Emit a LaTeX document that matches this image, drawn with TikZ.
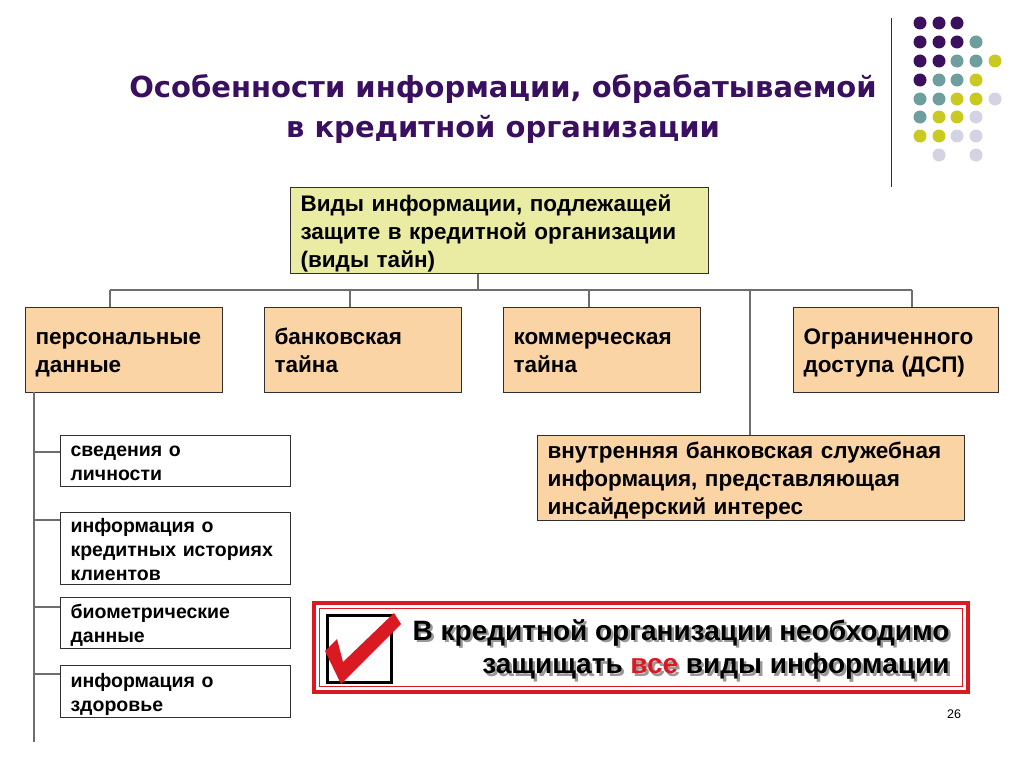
\documentclass[tikz,border=0pt]{standalone}
\usepackage{fontspec}
\setmainfont{Liberation Sans}
\newfontfamily\titlefont{DejaVu Sans}
\usetikzlibrary{calc}
\definecolor{titlecol}{HTML}{3A0F5F}
\definecolor{dotP}{HTML}{3B105E}
\definecolor{dotT}{HTML}{6E9E9E}
\definecolor{dotY}{HTML}{C9C922}
\definecolor{dotL}{HTML}{D3D3E3}
\definecolor{mainfill}{HTML}{E9ECA2}
\definecolor{peach}{HTML}{FBD4A5}
\definecolor{boxline}{HTML}{303030}
\definecolor{conline}{HTML}{6E6E6E}
\definecolor{alertred}{HTML}{D91A22}
\newcommand\mystr{\rule[\dimexpr-0.3\baselineskip+3pt\relax]{0pt}{\baselineskip}}
\newcommand\shadowtext[2][black]{\makebox[0pt][l]{\hspace{2.5pt}\raisebox{-2.5pt}{\color{black!40}#2}}\textcolor{#1}{#2}}
\tikzset{
  bx/.style={draw=boxline, line width=1.1pt, inner xsep=10pt, inner ysep=0pt, align=left, anchor=north west, text=black},
  bigtxt/.style={font=\bfseries\fontsize{22.5}{28}\selectfont},
  smalltxt/.style={font=\bfseries\fontsize{19.5}{24}\selectfont},
  alerttxt/.style={font=\bfseries\fontsize{28}{34}\selectfont, anchor=east},
  con/.style={draw=conline, line width=1.3pt},
  dot/.style={radius=6.5},
}
\begin{document}
\begin{tikzpicture}[x=1pt,y=-1pt]
\useasboundingbox[fill=white] (0,0) rectangle (1024,768);
% title
\node[text=titlecol, font=\titlefont\bfseries\fontsize{29}{40}\selectfont, align=center] (title) at (503,109) {Особенности информации, обрабатываемой\\в кредитной организации};
% decorative line and dots
\draw[color=boxline, line width=1pt] (891,18) -- (891,187);
\foreach \c/\x/\y in {P/920/23,P/939/23,P/957/23,
  P/920/42,P/939/42,P/957/42,T/976/42,
  P/920/61,P/939/61,T/957/61,T/976/61,Y/995/61,
  P/920/80,T/939/80,T/957/80,Y/976/80,
  T/920/99,T/939/99,Y/957/99,Y/976/99,L/995/99,
  T/920/117,Y/939/117,Y/957/117,L/976/117,
  Y/920/136,Y/939/136,L/957/136,L/976/136,
  L/939/155,L/976/155}
  \fill[dot\c] (\x,\y) circle[dot];
% main box
\node[bx, bigtxt, fill=mainfill, text width=398pt, minimum height=86pt] (m) at (290,187) {\mystr Виды информации, подлежащей\\\mystr защите в кредитной организации\\\mystr (виды тайн)};
% peach boxes
\node[bx, bigtxt, fill=peach, text width=177pt, minimum height=85pt] (p1) at (25,307) {\mystr персональные\\\mystr данные};
\node[bx, bigtxt, fill=peach, text width=177pt, minimum height=85pt] (p2) at (264,307) {\mystr банковская\\\mystr тайна};
\node[bx, bigtxt, fill=peach, text width=177pt, minimum height=85pt] (p3) at (503,307) {\mystr коммерческая\\\mystr тайна};
\node[bx, bigtxt, fill=peach, text width=185pt, minimum height=85pt] (p4) at (793,307) {\mystr Ограниченного\\\mystr доступа (ДСП)};
\node[bx, bigtxt, fill=peach, text width=407pt, minimum height=85pt] (ins) at (537,435) {\mystr внутренняя банковская служебная\\\mystr информация, представляющая\\\mystr инсайдерский интерес};
% sub boxes
\node[bx, smalltxt, fill=white, text width=210pt, minimum height=51pt] (s1) at (60,435) {\mystr сведения о\\\mystr личности};
\node[bx, smalltxt, fill=white, text width=210pt, minimum height=68pt] (s2) at (60,512) {\mystr информация о\\\mystr кредитных историях\\\mystr клиентов};
\node[bx, smalltxt, fill=white, text width=210pt, minimum height=51pt] (s3) at (60,597) {\mystr биометрические\\\mystr данные};
\node[bx, smalltxt, fill=white, text width=210pt, minimum height=52pt] (s4) at (60,665) {\mystr информация о\\\mystr здоровье};
% connectors
\coordinate (bus) at (478,290);
\coordinate (bl) at (110,290);
\coordinate (br) at (912,290);
\coordinate (d2) at (350,290);
\coordinate (d3) at (589,290);
\coordinate (di) at (750,290);
\draw[con] (m.south -| bus) -- (bus);
\draw[con] (bl) -- (br);
\draw[con] (bl) -- (bl |- p1.north);
\draw[con] (d2) -- (d2 |- p2.north);
\draw[con] (d3) -- (d3 |- p3.north);
\draw[con] (br) -- (br |- p4.north);
\draw[con] (di) -- (di |- ins.north);
\coordinate (lt) at (34,392);
\coordinate (lb) at (34,742);
\draw[con] (lt) -- (lb);
\draw[con] (lt |- 0,452) -- (s1.west |- 0,452);
\draw[con] (lt |- 0,520) -- (s2.west |- 0,520);
\draw[con] (lt |- 0,607) -- (s3.west |- 0,607);
\draw[con] (lt |- 0,674) -- (s4.west |- 0,674);
% alert box
\draw[alertred, line width=3.5pt, fill=white] (314,603) rectangle (968,692);
\draw[alertred, line width=1.2pt] (319.5,608.5) rectangle (962.5,686.5);
\draw[black, line width=3pt, fill=white] (327,615) rectangle (391,682);
\fill[alertred] (325,651) -- (337,639) -- (343,662) -- (394,613) -- (401,624) -- (341,684) -- cycle;
\node[alerttxt, text=black] (a1) at (953,634) {\shadowtext{В кредитной организации необходимо}};
\node[alerttxt, text=black] (a2) at (953,668) {\shadowtext{защищать} \shadowtext[alertred]{все} \shadowtext{виды информации}};
\node[font=\fontsize{12.5}{15}\selectfont] (pg) at (954,714) {26};
\end{tikzpicture}
\end{document}
